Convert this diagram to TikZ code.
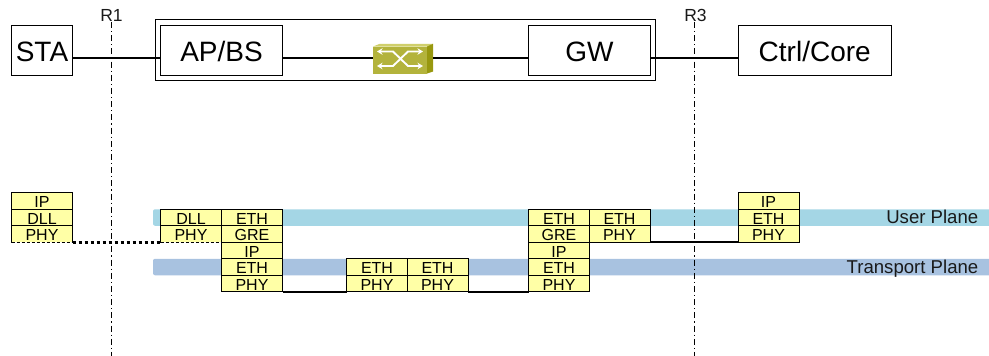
\documentclass[tikz,border=0pt]{standalone}
\usepackage{fontspec}
\setmainfont{Liberation Sans}
\usetikzlibrary{arrows.meta}
\definecolor{layerfill}{HTML}{FFFFA6}
\definecolor{userband}{HTML}{A4D6E5}
\definecolor{transband}{HTML}{A8C2E0}
\definecolor{swfront}{HTML}{B3B33C}
\definecolor{swtop}{HTML}{CFCF6B}
\definecolor{swside}{HTML}{98980F}
\tikzset{
  x=1pt,y=-1pt,
  device/.style={draw=black,fill=white,line width=1pt,inner sep=0pt,outer sep=0pt,minimum height=49.5pt,font=\fontsize{28}{28}\selectfont,text height=23pt,text depth=0pt},
  layer/.style={draw=black,fill=layerfill,line width=1pt,inner sep=0pt,outer sep=0pt,minimum width=61pt,minimum height=16.5pt,font=\fontsize{16}{16}\selectfont,text height=13.5pt,text depth=0pt},
  band/.style={inner sep=0pt,outer sep=0pt,rounded corners=2pt,minimum width=850pt,minimum height=16.5pt,anchor=west},
  planelabel/.style={inner sep=0pt,anchor=east,font=\fontsize{18.6}{18.6}\selectfont,text height=13pt,text depth=3pt,text=black!90},
  reflabel/.style={inner sep=0pt,font=\fontsize{17.5}{17.5}\selectfont,text height=12.5pt,text depth=0pt,text=black!90},
  refline/.style={line width=0.8pt,dash pattern=on 6pt off 3pt on 1.2pt off 3pt},
  link/.style={line width=1.8pt,black},
  swarrow/.style={white,line width=1.9pt,{Stealth[length=5.5pt,width=6.5pt]}-{Stealth[length=5.5pt,width=6.5pt]},line join=miter},
}
\begin{document}
\begin{tikzpicture}
\useasboundingbox (0,0) rectangle (989,356);
% planes
\node[band,fill=userband] (userplane) at (153,217.5) {};
\node[band,fill=transband] (transplane) at (153,267) {};
\node[planelabel] (userlabel) at (978.5,218) {User Plane};
\node[planelabel] (translabel) at (978.5,268) {Transport Plane};
% reference lines
\node[reflabel] (r1) at (111.5,15.5) {R1};
\node[reflabel] (r3) at (695.5,15.5) {R3};
\coordinate (r1end) at (111,356);
\coordinate (r3end) at (694.5,356);
\draw[refline] (r1.south -| r1end) -- (r1end);
\draw[refline] (r3.south -| r3end) -- (r3end);
% outer box
\node[draw=black,line width=1pt,inner sep=0pt,outer sep=0pt,minimum width=500.5pt,minimum height=61pt] (outer) at (405.25,50) {};
% top devices
\node[device,minimum width=61pt] (sta) at (42,50.25) {STA};
\node[device,minimum width=122pt] (apbs) at (221.5,50.25) {AP/BS};
\node[device,minimum width=122pt] (gw) at (589.5,50.25) {GW};
\node[device,minimum width=152.5pt] (core) at (814.75,50.25) {Ctrl/Core};
% switch
\node[inner sep=0pt,outer sep=0pt,minimum width=60pt,minimum height=29.5pt] (sw) at (403,58.75) {};
\fill[swfront] (373,46.5) rectangle (427,73.5);
\fill[swtop] (373,46.5) -- (380,43.75) -- (433,43.75) -- (427,46.5) -- cycle;
\fill[swside] (427,46.5) -- (433,43.75) -- (433,71.5) -- (427,73.5) -- cycle;
\draw[swarrow] (377,51.5) -- (393,51.5) -- (408,66) -- (423,66);
\draw[swarrow] (377,66) -- (393,66) -- (408,51.5) -- (423,51.5);
% top links
\coordinate (bus) at (0,58);
\draw[link] (sta.east |- bus) -- (apbs.west |- bus);
\draw[link] (apbs.east |- bus) -- (sw.west |- bus);
\draw[link] (sw.east |- bus) -- (gw.west |- bus);
\draw[link] (gw.east |- bus) -- (core.west |- bus);
% STA stack
\node[layer] (s1) at (42,201) {IP};
\node[layer] (s2) at (42,217.5) {DLL};
\node[layer] (s3) at (42,234) {PHY};
% AP stacks
\node[layer] (a1) at (191,217.5) {DLL};
\node[layer] (a2) at (191,234) {PHY};
\node[layer] (b1) at (252,217.5) {ETH};
\node[layer] (b2) at (252,234) {GRE};
\node[layer] (b3) at (252,250.5) {IP};
\node[layer] (b4) at (252,267) {ETH};
\node[layer] (b5) at (252,283.5) {PHY};
% switch stacks
\node[layer] (c1) at (377,267) {ETH};
\node[layer] (c2) at (377,283.5) {PHY};
\node[layer] (d1) at (437.5,267) {ETH};
\node[layer] (d2) at (437.5,283.5) {PHY};
% GW stacks
\node[layer] (e1) at (559,217.5) {ETH};
\node[layer] (e2) at (559,234) {GRE};
\node[layer] (e3) at (559,250.5) {IP};
\node[layer] (e4) at (559,267) {ETH};
\node[layer] (e5) at (559,283.5) {PHY};
\node[layer] (f1) at (619.5,217.5) {ETH};
\node[layer] (f2) at (619.5,234) {PHY};
% core stack
\node[layer] (g1) at (768.5,201) {IP};
\node[layer] (g2) at (768.5,217.5) {ETH};
\node[layer] (g3) at (768.5,234) {PHY};
% bottom links
\draw[white,line width=1.2pt] (s3.south west) -- (s3.south east);
\draw[white,line width=1.2pt] (a2.south west) -- (a2.south east);
\draw[black,line width=1.2pt,dash pattern=on 3pt off 2pt] (s3.south west) -- (s3.south east);
\draw[black,line width=1.2pt,dash pattern=on 3pt off 2pt] (a2.south west) -- (a2.south east);
\draw[black,line width=2.6pt,dash pattern=on 3pt off 3pt] (s3.south east) -- (a2.south west);
\draw[link] (b5.south east) -- (c2.south west);
\draw[link] (d2.south east) -- (e5.south west);
\draw[link] (f2.south east) -- (g3.south west);
\end{tikzpicture}
\end{document}
